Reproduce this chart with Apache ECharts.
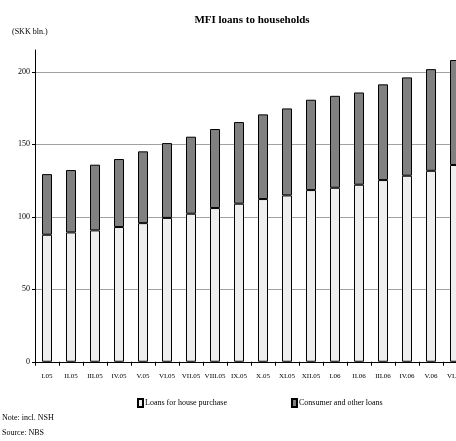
<!DOCTYPE html>
<html>
<head>
<meta charset="utf-8">
<script src="https://cdn.jsdelivr.net/npm/echarts@6/dist/echarts.min.js"></script>
<style>
html,body{margin:0;padding:0;background:#fff;overflow:hidden;width:456px;height:441px;}
#c{width:470px;height:441px;}
</style>
</head>
<body>
<div id="c"></div>
<script>
var categories = ["I.05","II.05","III.05","IV.05","V.05","VI.05","VII.05","VIII.05","IX.05","X.05","XI.05","XII.05","I.06","II.06","III.06","IV.06","V.06","VI.06"];
var housePurchase = [87.6,89.2,90.6,92.9,95.6,99.2,102.1,106.0,109.0,112.2,114.7,118.4,120.0,122.1,125.3,128.3,131.7,135.7];
var totals = [129.4,132.2,135.9,139.8,145.1,150.8,155.2,160.5,165.3,170.6,174.7,180.7,183.4,185.7,191.3,196.1,201.8,208.1];
var consumerOther = totals.map(function(t,i){ return +(t - housePurchase[i]).toFixed(1); });
var yTicks = [0,50,100,150,200];

var font = '"Liberation Serif", "DejaVu Serif", serif';
var chart = echarts.init(document.getElementById('c'), null, {renderer:'canvas'});
chart.setOption({
  animation:false,
  backgroundColor:'#ffffff',
  title:{
    text:'MFI loans to households',
    left:247, top:10, textAlign:'center',
    textStyle:{fontFamily:font, fontSize:11, fontWeight:'bold', color:'#000'}
  },
  graphic:[
    {type:'text', left:12, top:28, style:{text:'(SKK bln.)', font:'8px '+font, fill:'#000'}},
    {type:'text', left:2, top:414, style:{text:'Note: incl. NSH', font:'8px '+font, fill:'#000'}},
    {type:'text', left:2, top:429, style:{text:'Source: NBS', font:'8px '+font, fill:'#000'}}
  ],
  legend:{
    left:132, top:393,
    itemWidth:5, itemHeight:8, itemGap:64,
    icon:'rect',
    textStyle:{fontFamily:font, fontSize:8, color:'#000', padding:[0,0,0,-3]},
    data:['Loans for house purchase','Consumer and other loans']
  },
  grid:{left:35, top:50, width:432, height:311.75, containLabel:false},
  xAxis:{
    type:'category', data:categories, boundaryGap:true,
    axisLine:{lineStyle:{color:'#000', width:1}},
    axisTick:{show:true, length:4, alignWithLabel:false, lineStyle:{color:'#000'}},
    axisLabel:{interval:0, fontFamily:font, fontSize:7, color:'#000', margin:11}
  },
  yAxis:{
    type:'value', min:0, max:215, interval:50,
    axisLine:{show:true, lineStyle:{color:'#000', width:1}},
    axisTick:{show:true, length:3, lineStyle:{color:'#000'}, customValues:yTicks},
    axisLabel:{fontFamily:font, fontSize:8, color:'#000', margin:5, customValues:yTicks},
    splitLine:{show:true, lineStyle:{color:'#a0a0a0', width:1}}
  },
  series:[
    {name:'Loans for house purchase', type:'bar', stack:'a', data:housePurchase, barWidth:10,
     itemStyle:{color:'#eeeeee', borderColor:'#000', borderWidth:1}},
    {name:'Consumer and other loans', type:'bar', stack:'a', data:consumerOther, barWidth:10,
     itemStyle:{color:'#808080', borderColor:'#000', borderWidth:1}}
  ]
});
</script>
</body>
</html>
